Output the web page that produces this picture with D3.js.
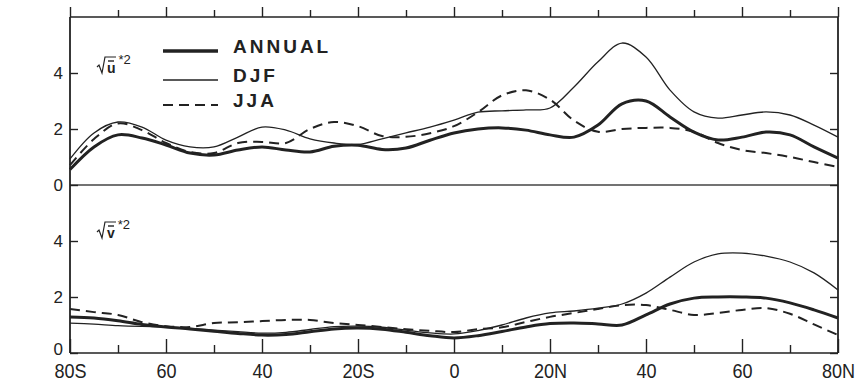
<!DOCTYPE html>
<html>
<head>
<meta charset="utf-8">
<script src="https://cdn.jsdelivr.net/npm/d3@7"></script>
<style>
    body { margin: 0; background: #fff; }
    svg { display: block; }
    .tick-label { font-family: "Liberation Sans Narrow", "Liberation Sans", Arial, sans-serif; fill: #222; }
    .legend-text { font-family: "Liberation Sans", Arial, sans-serif; font-weight: bold; font-size: 19px; letter-spacing: 3px; fill: #222; }
    .var-label { font-family: "Liberation Sans", Arial, sans-serif; fill: #222; }
</style>
</head>
<body>
<div id="imageContainer"></div>
<script>
// latitudes, 80S .. 80N, every 5 degrees (south negative)
var lats = [-80, -75, -70, -65, -60, -55, -50, -45, -40, -35, -30, -25, -20, -15, -10, -5,
            0, 5, 10, 15, 20, 25, 30, 35, 40, 45, 50, 55, 60, 65, 70, 75, 80];

// sqrt(u*^2)
var u_annual = [0.55, 1.36, 1.79, 1.68, 1.43, 1.14, 1.07, 1.25, 1.36, 1.25, 1.18, 1.38, 1.42, 1.27, 1.32, 1.6,
                1.86, 2.0, 2.04, 1.96, 1.79, 1.71, 2.14, 2.9, 3.0, 2.43, 1.89, 1.61, 1.71, 1.89, 1.79, 1.36, 0.96];
var u_djf    = [0.93, 1.86, 2.25, 2.07, 1.6, 1.36, 1.36, 1.71, 2.07, 1.96, 1.65, 1.5, 1.45, 1.65, 1.86, 2.07,
                2.32, 2.6, 2.65, 2.68, 2.75, 3.5, 4.4, 5.07, 4.57, 3.39, 2.61, 2.39, 2.5, 2.61, 2.5, 2.14, 1.71];
var u_jja    = [0.71, 1.64, 2.2, 1.96, 1.5, 1.18, 1.14, 1.5, 1.54, 1.5, 2.0, 2.25, 2.1, 1.75, 1.72, 1.85,
                2.1, 2.6, 3.2, 3.38, 3.05, 2.3, 1.9, 2.0, 2.04, 2.04, 1.9, 1.5, 1.25, 1.14, 1.0, 0.82, 0.64];

// sqrt(v*^2)
var v_annual = [1.29, 1.25, 1.15, 1.02, 0.93, 0.86, 0.78, 0.7, 0.64, 0.66, 0.76, 0.86, 0.89, 0.85, 0.74, 0.62,
                0.54, 0.62, 0.77, 0.93, 1.05, 1.07, 1.04, 1.0, 1.36, 1.75, 1.96, 2.0, 2.0, 1.96, 1.79, 1.54, 1.25];
var v_djf    = [1.07, 1.03, 0.98, 0.95, 0.93, 0.88, 0.82, 0.76, 0.71, 0.74, 0.84, 0.94, 0.96, 0.92, 0.82, 0.72,
                0.68, 0.8, 1.0, 1.25, 1.43, 1.5, 1.6, 1.75, 2.14, 2.71, 3.25, 3.54, 3.57, 3.46, 3.25, 2.86, 2.25];
var v_jja    = [1.57, 1.46, 1.36, 1.1, 0.96, 0.93, 1.07, 1.1, 1.14, 1.18, 1.18, 1.07, 1.0, 0.93, 0.85, 0.79,
                0.75, 0.85, 0.92, 1.11, 1.29, 1.43, 1.57, 1.71, 1.71, 1.54, 1.36, 1.43, 1.54, 1.6, 1.4, 1.02, 0.64];

var series_names = ['ANNUAL', 'DJF', 'JJA'];
var y_ticks = [0, 2, 4];
var major_lats = [-80, -60, -40, -20, 0, 20, 40, 60, 80];
var minor_lats = [-70, -50, -30, -10, 10, 30, 50, 70];

(function() {
    var width = 856,
        height = 383,
        left = 70,
        right = 838,
        top = 17,
        mid = 185,
        bottom = 353,
        ink = '#222';

    var styles = {
        ANNUAL: { w: 3, dash: null },
        DJF: { w: 1.3, dash: null },
        JJA: { w: 2, dash: '10,6' }
    };

    var svg = d3.select('#imageContainer').append('svg')
        .attr('width', width)
        .attr('height', height);

    var x = d3.scaleLinear().domain([-80, 80]).range([left, right]);
    var yU = d3.scaleLinear().domain([0, 6]).range([mid, top]);
    var yV = d3.scaleLinear().domain([0, 6]).range([bottom, mid]);

    function latLabel(d) {
        if (d === 0) return '0';
        if (Math.abs(d) === 80 || Math.abs(d) === 20) return Math.abs(d) + (d < 0 ? 'S' : 'N');
        return String(Math.abs(d));
    }

    // frame
    [top, mid, bottom].forEach(function(yy) {
        svg.append('line')
            .attr('x1', left).attr('x2', right)
            .attr('y1', yy).attr('y2', yy)
            .attr('stroke', yy === mid ? '#444' : ink)
            .attr('stroke-width', yy === mid ? 1.3 : 1.6);
    });
    [left, right].forEach(function(xx) {
        svg.append('line')
            .attr('x1', xx).attr('x2', xx)
            .attr('y1', top).attr('y2', bottom)
            .attr('stroke', ink)
            .attr('stroke-width', 1.8);
    });

    function styleAxis(g) {
        g.select('.domain').remove();
        g.selectAll('.tick line').attr('stroke', ink).attr('stroke-width', 1.4);
    }

    // top ticks (pointing up)
    svg.append('g')
        .attr('transform', 'translate(0,' + top + ')')
        .call(d3.axisTop(x).tickValues(major_lats).tickSize(10).tickFormat(''))
        .call(styleAxis);
    svg.append('g')
        .attr('transform', 'translate(0,' + top + ')')
        .call(d3.axisTop(x).tickValues(minor_lats).tickSize(7).tickFormat(''))
        .call(styleAxis);

    // bottom ticks (pointing in) + latitude labels
    svg.append('g')
        .attr('transform', 'translate(0,' + bottom + ')')
        .call(d3.axisBottom(x).tickValues(minor_lats).tickSize(-8).tickFormat(''))
        .call(styleAxis);
    var xAxis = svg.append('g')
        .attr('transform', 'translate(0,' + bottom + ')')
        .call(d3.axisBottom(x).tickValues(major_lats).tickSize(-14).tickPadding(10).tickFormat(latLabel))
        .call(styleAxis);
    xAxis.selectAll('.tick text')
        .attr('class', 'tick-label')
        .attr('font-size', 21)
        .attr('transform', 'scale(0.86,1)');

    // y ticks, both panels
    [yU, yV].forEach(function(y, p) {
        var la = svg.append('g')
            .attr('transform', 'translate(' + left + ',0)')
            .call(d3.axisLeft(y).tickValues(y_ticks).tickSize(-8).tickPadding(7).tickFormat(d3.format('d')))
            .call(styleAxis);
        la.selectAll('.tick text')
            .attr('class', 'tick-label')
            .attr('font-size', 17)
            .attr('dy', function(d) { return (p === 1 && d === 0) ? '0.1em' : '0.32em'; });
        svg.append('g')
            .attr('transform', 'translate(' + right + ',0)')
            .call(d3.axisRight(y).tickValues(y_ticks).tickSize(-8).tickFormat(''))
            .call(styleAxis);
    });

    // curves
    function drawPanel(y, data) {
        var line = d3.line()
            .x(function(d) { return x(d[0]); })
            .y(function(d) { return y(d[1]); })
            .curve(d3.curveCatmullRom.alpha(0.5));
        series_names.forEach(function(name, k) {
            var pts = lats.map(function(lat, i) { return [lat, data[k][i]]; });
            svg.append('path')
                .attr('d', line(pts))
                .attr('fill', 'none')
                .attr('stroke', ink)
                .attr('stroke-width', styles[name].w)
                .attr('stroke-dasharray', styles[name].dash)
                .attr('stroke-linejoin', 'round');
        });
    }
    drawPanel(yU, [u_annual, u_djf, u_jja]);
    drawPanel(yV, [v_annual, v_djf, v_jja]);

    // legend
    var legend_y = [51, 80, 105],
        text_y = [53, 82, 107];
    series_names.forEach(function(name, k) {
        svg.append('line')
            .attr('x1', 163).attr('x2', 218)
            .attr('y1', legend_y[k]).attr('y2', legend_y[k])
            .attr('stroke', ink)
            .attr('stroke-width', styles[name].w + (name === 'ANNUAL' ? 0.5 : 0))
            .attr('stroke-dasharray', styles[name].dash);
        svg.append('text')
            .attr('class', 'legend-text')
            .attr('x', 233)
            .attr('y', text_y[k])
            .text(name);
    });

    // variable labels: sqrt(u*^2), sqrt(v*^2)
    function varLabel(x0, base, letter) {
        svg.append('path')
            .attr('d', 'M' + x0 + ',' + (base - 6) + ' L' + (x0 + 2) + ',' + (base - 8) +
                       ' L' + (x0 + 5) + ',' + base + ' L' + (x0 + 8) + ',' + (base - 16) +
                       ' L' + (x0 + 19) + ',' + (base - 16))
            .attr('fill', 'none')
            .attr('stroke', ink)
            .attr('stroke-width', 1.2);
        svg.append('line')
            .attr('x1', x0 + 11).attr('x2', x0 + 17)
            .attr('y1', base - 12).attr('y2', base - 12)
            .attr('stroke', ink)
            .attr('stroke-width', 1.4);
        var t = svg.append('text')
            .attr('class', 'var-label')
            .attr('x', x0 + 10)
            .attr('y', base)
            .attr('font-size', 14)
            .attr('font-weight', 'bold');
        t.append('tspan').text(letter);
        t.append('tspan')
            .attr('dx', 3)
            .attr('dy', -9)
            .attr('font-size', 13)
            .attr('font-weight', 'normal')
            .text('*2');
    }
    varLabel(97, 73, 'u');
    varLabel(97, 238, 'v');
})();
</script>
</body>
</html>
